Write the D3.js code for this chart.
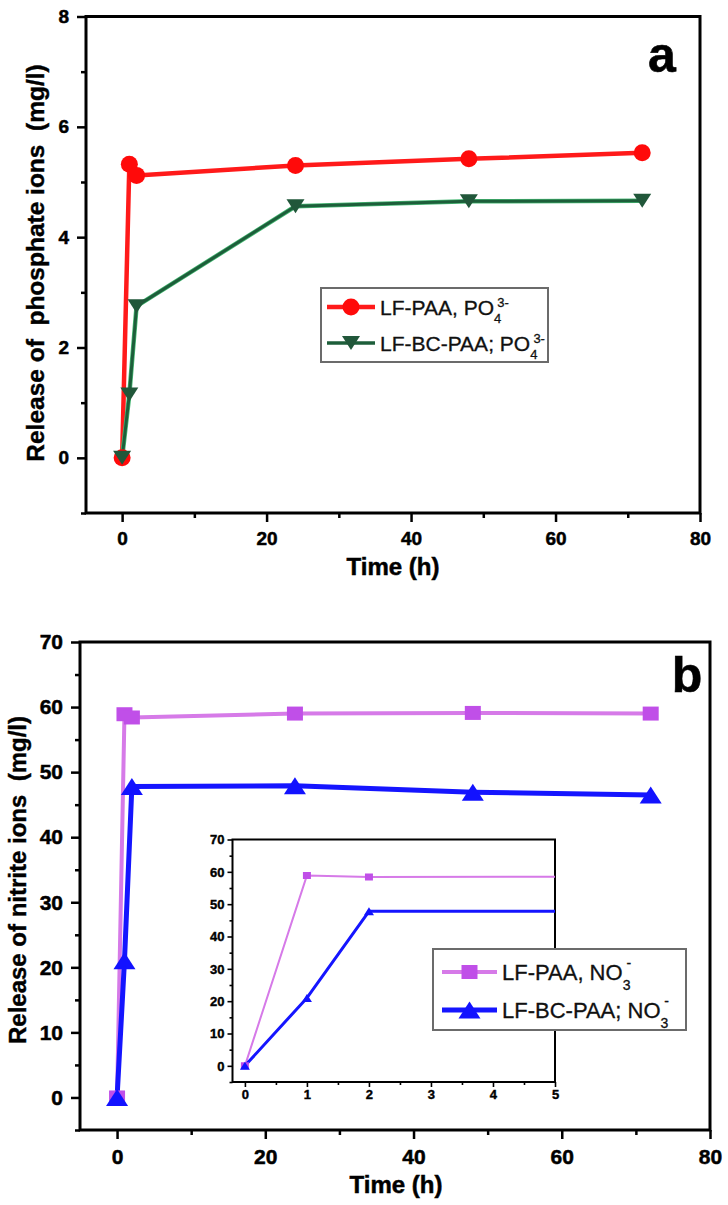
<!DOCTYPE html>
<html><head><meta charset="utf-8">
<script src="https://cdn.jsdelivr.net/npm/d3@7"></script>
<style>
body{margin:0;background:#fff}
svg text{font-family:"Liberation Sans",Arial,Helvetica,sans-serif}
</style>
</head><body>
<svg id="chart" width="728" height="1205"></svg>
<script>
// ---------------- data ----------------
const timeH = [0, 1, 2, 24, 48, 72];
const lfPaaPO4 = [0, 5.32, 5.12, 5.30, 5.42, 5.53];
const lfBcPaaPO4 = [0, 1.15, 2.75, 4.56, 4.65, 4.66];
const lfPaaNO3 = [0, 58.9, 58.4, 59.0, 59.1, 59.0];
const lfBcPaaNO3 = [0, 21.0, 47.8, 47.9, 46.9, 46.5];

const xTicksMain = [0, 20, 40, 60, 80];
const xMinorMain = [10, 30, 50, 70];
const yTicksA = [0, 2, 4, 6, 8];
const yMinorA = [-1, 1, 3, 5, 7];
const yTicksB = [0, 10, 20, 30, 40, 50, 60, 70];
const yMinorB = [-5, 5, 15, 25, 35, 45, 55, 65];
const xTicksInset = [0, 1, 2, 3, 4, 5];
const xMinorInset = [0.5, 1.5, 2.5, 3.5, 4.5];
const yTicksInset = [0, 10, 20, 30, 40, 50, 60, 70];
const yMinorInset = [-5, 5, 15, 25, 35, 45, 55, 65];

const legendA = [
  {name: "LF-PAA, PO", sub: "4", sup: "3-"},
  {name: "LF-BC-PAA; PO", sub: "4", sup: "3-"}
];
const legendB = [
  {name: "LF-PAA, NO", sub: "3", sup: "-"},
  {name: "LF-BC-PAA; NO", sub: "3", sup: "-"}
];
const xTitle = "Time (h)";
const yTitleA = "Release of  phosphate ions  (mg/l)";
const yTitleB = "Release of nitrite ions  (mg/l)";

// ---------------- helpers ----------------
const svg = d3.select("#chart");
const zip = (xs, ys) => xs.map((t, i) => [t, ys[i]]);

function markerPath(type, w, h) {
  if (type === "triUp") return `M0,${-h/2}L${w/2},${h/2}L${-w/2},${h/2}Z`;
  if (type === "triDown") return `M0,${h/2}L${w/2},${-h/2}L${-w/2},${-h/2}Z`;
  if (type === "square") return `M${-w/2},${-h/2}h${w}v${h}h${-w}Z`;
  const r = w / 2;
  return `M${r},0A${r},${r} 0 1,1 ${-r},0A${r},${r} 0 1,1 ${r},0Z`;
}

function heavy(sel, sw) {
  return sel.attr("font-weight", "bold").attr("stroke", "#000").attr("stroke-width", sw).attr("fill", "#000");
}

function drawAxes(g, x, y, o) {
  const [x0, x1] = x.range();
  const [y0, y1] = y.range();
  const bottom = g.append("g").attr("transform", `translate(0,${y0})`);
  bottom.append("g").call(d3.axisBottom(x).tickValues(o.xMinor).tickSize(o.minor).tickFormat(""));
  bottom.append("g").call(d3.axisBottom(x).tickValues(o.xMajor).tickSize(o.major).tickPadding(o.padX).tickFormat(d3.format("d")));
  const left = g.append("g").attr("transform", `translate(${x0},0)`);
  left.append("g").call(d3.axisLeft(y).tickValues(o.yMinor).tickSize(o.minor).tickFormat(""));
  left.append("g").call(d3.axisLeft(y).tickValues(o.yMajor).tickSize(o.major).tickPadding(o.padY).tickFormat(d3.format("d")));
  g.selectAll(".domain").remove();
  g.selectAll(".tick line").attr("stroke", "#000").attr("stroke-width", o.tickW);
  heavy(g.selectAll(".tick text").attr("font-size", o.font)
    .attr("font-family", '"Liberation Sans",Arial,sans-serif'), o.textStroke);
  g.append("rect").attr("x", x0).attr("y", y1).attr("width", x1 - x0).attr("height", y0 - y1)
    .attr("fill", "none").attr("stroke", "#000").attr("stroke-width", o.frameW);
}

function drawSeries(g, x, y, pts, s) {
  const line = d3.line().x(d => x(d[0])).y(d => y(d[1]));
  if (s.under) g.append("path").datum(pts).attr("d", line).attr("fill", "none")
    .attr("stroke", s.under).attr("stroke-width", s.width + 1.5).attr("stroke-linejoin", "round");
  g.append("path").datum(pts).attr("d", line).attr("fill", "none")
    .attr("stroke", s.color).attr("stroke-width", s.width).attr("stroke-linejoin", "round");
}
function drawMarkers(g, x, y, pts, s) {
  g.selectAll(null).data(pts).enter().append("path")
    .attr("transform", d => `translate(${x(d[0])},${y(d[1])})`)
    .attr("d", markerPath(s.marker, s.mw, s.mh))
    .attr("fill", s.mfill);
}

function legend(g, box, rows, styles, o) {
  g.append("rect").attr("x", box.x).attr("y", box.y).attr("width", box.w).attr("height", box.h)
    .attr("fill", "#fff").attr("stroke", "#6b6b6b").attr("stroke-width", 2);
  rows.forEach((r, i) => {
    const s = styles[i];
    const cy = o.rowY[i];
    g.append("line").attr("x1", o.lx0).attr("x2", o.lx1).attr("y1", cy).attr("y2", cy)
      .attr("stroke", s.color).attr("stroke-width", s.legW || s.width);
    g.append("path").attr("transform", `translate(${(o.lx0 + o.lx1) / 2},${cy})`)
      .attr("d", markerPath(s.marker, s.mw, s.mh)).attr("fill", s.mfill);
    const t = g.append("text").attr("x", o.tx).attr("y", cy + o.base).attr("font-size", o.font)
      .attr("fill", "#111").attr("stroke", "#111").attr("stroke-width", 0.3);
    t.append("tspan").text(r.name);
    t.append("tspan").attr("font-size", o.small).attr("dy", o.subDy).text(r.sub);
    t.append("tspan").attr("font-size", o.small).attr("dx", o.supDx).attr("dy", o.supDy).text(r.sup);
  });
}

function yTitle(text, cx, cy, size) {
  heavy(svg.append("text").attr("transform", `translate(${cx},${cy}) rotate(-90)`)
    .attr("text-anchor", "middle").attr("dy", "0.35em").attr("font-size", size)
    .style("white-space", "pre").text(text), 0.4);
}

// ---------------- panel a ----------------
const styleRed = {color: "#ff1a1a", width: 4.5, marker: "circle", mw: 17, mh: 17, mfill: "#ff0a0a"};
const styleGreen = {color: "#1d5e3a", under: "#45b873", width: 3, marker: "triDown", mw: 18, mh: 14, mfill: "#21573a", legW: 3.5};
{
  const x = d3.scaleLinear().domain([-5, 80]).range([86, 700]);
  const y = d3.scaleLinear().domain([-1, 8]).range([513, 16.5]);
  const g = svg.append("g");
  drawAxes(g, x, y, {xMajor: xTicksMain, xMinor: xMinorMain, yMajor: yTicksA, yMinor: yMinorA,
    major: 9, minor: 5, padX: 10, padY: 8, tickW: 2.5, frameW: 3, font: 19, textStroke: 0.5});
  const red = zip(timeH, lfPaaPO4), green = zip(timeH, lfBcPaaPO4);
  drawSeries(g, x, y, red, styleRed);
  drawSeries(g, x, y, green, styleGreen);
  drawMarkers(g, x, y, red, styleRed);
  drawMarkers(g, x, y, green, styleGreen);
  legend(g, {x: 321, y: 288, w: 227, h: 74}, legendA, [styleRed, styleGreen],
    {rowY: [307, 343], lx0: 327, lx1: 375, tx: 380, base: 7.5, font: 21, small: 13, subDy: 8, supDx: -4, supDy: -16});
  heavy(g.append("text").attr("x", 393).attr("y", 575).attr("text-anchor", "middle")
    .attr("font-size", 24).text(xTitle), 0.5);
  heavy(g.append("text").attr("x", 662).attr("y", 72).attr("text-anchor", "middle")
    .attr("font-size", 50).text("a"), 0.6);
  yTitle(yTitleA, 35, 263, 24.5);
}

// ---------------- panel b ----------------
const stylePink = {color: "#d67ae8", width: 4, marker: "square", mw: 16, mh: 14, mfill: "#c04fe8"};
const styleBlue = {color: "#1515ff", width: 5, marker: "triUp", mw: 22, mh: 17, mfill: "#1212ff"};
{
  const x = d3.scaleLinear().domain([-5, 80]).range([80, 710]);
  const y = d3.scaleLinear().domain([-5, 70]).range([1130, 642]);
  const g = svg.append("g");
  drawAxes(g, x, y, {xMajor: xTicksMain, xMinor: xMinorMain, yMajor: yTicksB, yMinor: yMinorB,
    major: 9, minor: 5, padX: 10, padY: 8, tickW: 2.5, frameW: 3, font: 21, textStroke: 0.5});
  const pink = zip(timeH, lfPaaNO3), blue = zip(timeH, lfBcPaaNO3);
  drawSeries(g, x, y, pink, stylePink);
  drawSeries(g, x, y, blue, styleBlue);
  drawMarkers(g, x, y, pink, stylePink);
  drawMarkers(g, x, y, blue, styleBlue);

  // inset
  const xi = d3.scaleLinear().domain([-0.2, 5]).range([232.5, 555]);
  const yi = d3.scaleLinear().domain([-5, 70]).range([1082, 839.5]);
  const gi = svg.append("g");
  gi.append("rect").attr("x", 232.5).attr("y", 839.5).attr("width", 555 - 232.5).attr("height", 1082 - 839.5).attr("fill", "#fff");
  svg.append("defs").append("clipPath").attr("id", "insetClip").append("rect")
    .attr("x", 232.5).attr("y", 839.5).attr("width", 555 - 232.5).attr("height", 1082 - 839.5);
  drawAxes(gi, xi, yi, {xMajor: xTicksInset, xMinor: xMinorInset, yMajor: yTicksInset, yMinor: yMinorInset,
    major: 5, minor: 3, padX: 3, padY: 3, tickW: 1.6, frameW: 2, font: 13, textStroke: 0.4});
  const gc = gi.append("g").attr("clip-path", "url(#insetClip)");
  const inPink = {...stylePink, width: 2, mw: 8, mh: 7};
  const inBlue = {...styleBlue, width: 3, mw: 10, mh: 8};
  drawSeries(gc, xi, yi, pink, inPink);
  drawSeries(gc, xi, yi, blue, inBlue);
  drawMarkers(gc, xi, yi, pink.filter(d => d[0] <= 5), inPink);
  drawMarkers(gc, xi, yi, blue.filter(d => d[0] <= 5), inBlue);

  legend(svg.append("g"), {x: 433, y: 949, w: 253, h: 81}, legendB, [stylePink, styleBlue],
    {rowY: [972, 1010], lx0: 442, lx1: 497, tx: 502, base: 8, font: 22, small: 14, subDy: 10, supDx: -4, supDy: -22});

  heavy(svg.append("text").attr("x", 396).attr("y", 1193).attr("text-anchor", "middle")
    .attr("font-size", 24).text(xTitle), 0.5);
  heavy(svg.append("text").attr("x", 687).attr("y", 692).attr("text-anchor", "middle")
    .attr("font-size", 50).text("b"), 0.6);
  yTitle(yTitleB, 18, 880, 24);
}
</script>
</body></html>
